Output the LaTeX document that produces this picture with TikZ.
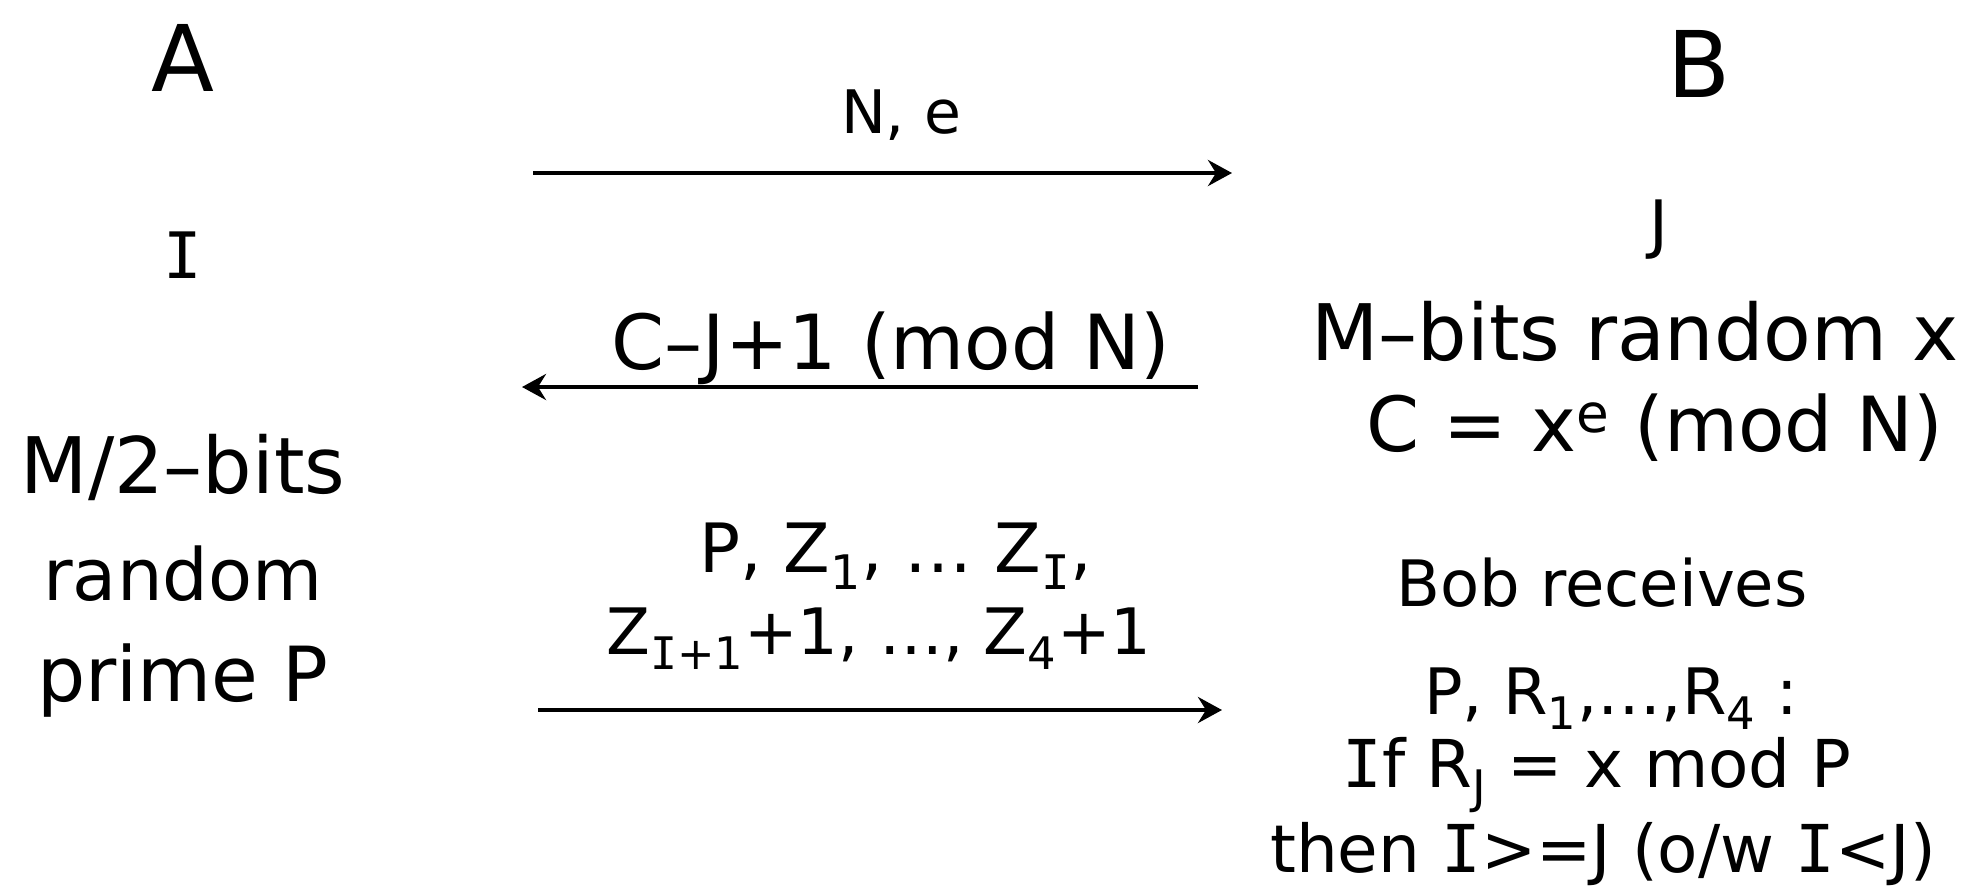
\documentclass[tikz,border=0pt]{standalone}
\usepackage{fontspec}
\setmainfont{DejaVu Sans}
\newfontfamily\serifI{DejaVu Sans Mono}
\usetikzlibrary{arrows.meta}
\newcommand\setfs[1]{\fontsize{#1}{#1}\selectfont}
\newcommand\II{{\serifI I}}
\begin{document}
\begin{tikzpicture}[x=0.5pt,y=-0.5pt,
  lbl/.style={anchor=base, inner sep=0pt},
  big/.style={lbl, font=\setfs{46}},
  mid/.style={lbl, font=\setfs{32}},
  main/.style={lbl, font=\setfs{38}},
  small/.style={lbl, font=\setfs{33}},
  msg/.style={line width=2pt, -{Stealth[length=12pt,width=13pt,inset=4pt]}}]
\useasboundingbox (0,0) rectangle (1981,895);
% left party
\node[big] (A) at (183,91) {A};
\node[mid] (I) at (183,278) {\II};
\node[lbl, font=\setfs{39}] (a1) at (183,493) {M/2–bits};
\node[lbl, font=\setfs{36}] (a2) at (183,600) {random};
\node[main] (a3) at (183,701) {prime P};
% right party
\node[big] (B) at (1699,97) {B};
\node[mid] (J) at (1659,246) {J};
\node[lbl, font=\setfs{39}] (b1) at (1635,360) {M–bits random x};
\node[main] (b2) at (1655,451) {C = x\textsuperscript{e} (mod N)};
\node[mid] (b3) at (1602,606) {Bob receives};
\node[mid] (b4) at (1611,714) {P, R\textsubscript{1},…,R\textsubscript{4} :};
\node[lbl, font=\setfs{33}] (b5) at (1597,787) {\II f R\textsubscript{J} = x mod P};
\node[lbl, font=\setfs{33}] (b6) at (1603,872) {then \II>=J (o/w \II<J)};
% messages
\node[lbl, font=\setfs{30}] (m1) at (901,133) {N, e};
\node[main] (m2) at (891,369) {C–J+1 (mod N)};
\node[lbl, font=\setfs{34}] (m3) at (896,572) {P, Z\textsubscript{1}, … Z\textsubscript{\II},};
\node[lbl, font=\setfs{32}] (m4) at (879,654) {Z\textsubscript{\II+1}+1, …, Z\textsubscript{4}+1};
\coordinate (s1) at (533,173); \coordinate (e1) at (1232,173);
\coordinate (s2) at (1198,387); \coordinate (e2) at (522,387);
\coordinate (s3) at (538,710); \coordinate (e3) at (1222,710);
\draw[msg] (s1) -- (e1);
\draw[msg] (s2) -- (e2);
\draw[msg] (s3) -- (e3);
\end{tikzpicture}
\end{document}
